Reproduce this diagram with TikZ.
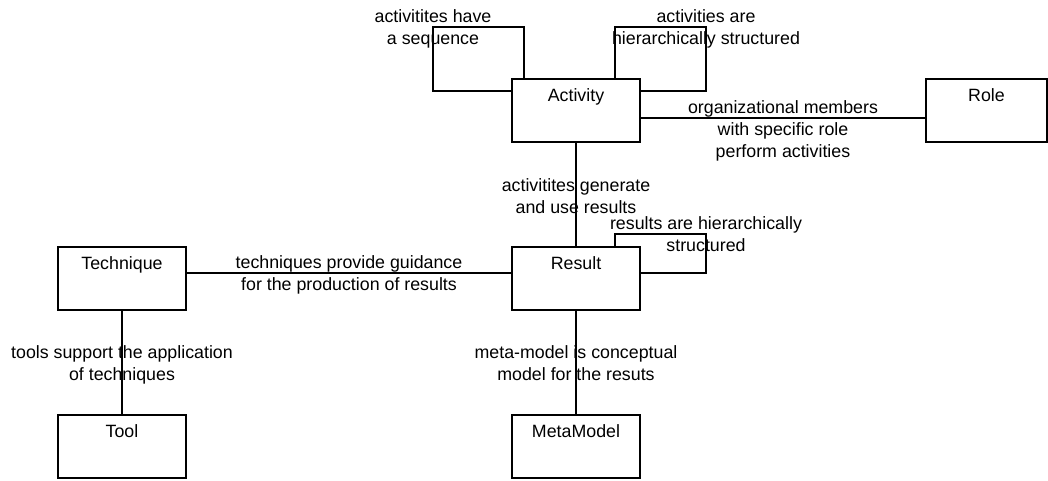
\documentclass[tikz,border=0pt]{standalone}
\usepackage{fontspec}
\setmainfont{Liberation Sans}
\usetikzlibrary{positioning}

\begin{document}
\begin{tikzpicture}[x=1pt, y=-1pt, node distance=105pt, line width=1.3pt,
        font=\fontsize{17.8}{22}\selectfont,
        entity/.style={rectangle, draw, inner sep=0pt, outer sep=0pt, minimum width=128pt, text height=22pt, text depth=41pt},
        rel/.style={align=center, inner sep=0pt, anchor=base}]
        \useasboundingbox (0,0) rectangle (1048,480);

        \node [entity, anchor=north west] (activity) at (512,79) {Activity};
        \node [entity, minimum width=121pt, right=286pt of activity] (role) {Role};
        \node [entity, below=of activity] (result) {Result};
        \node [entity, left=326pt of result] (technique) {Technique};
        \node [entity, below=of technique] (tool) {Tool};
        \node [entity, below=of result] (metamodel) {MetaModel};

        % self relations (base of a label is its last line)
        \draw ([xshift=12pt]activity.north west) |- ([xshift=-79pt, yshift=52pt]activity.north west)
            node [rel, yshift=-17.5pt] {activitites have\\a sequence}
            |- ([yshift=-12pt]activity.north west);
        \draw ([xshift=-25pt]activity.north east) |- ([xshift=66pt, yshift=52pt]activity.north east)
            node [rel, yshift=-17.5pt] {activities are\\hierarchically structured}
            |- ([yshift=-12pt]activity.north east);
        \draw ([xshift=-25pt]result.north east) |- ([xshift=66pt, yshift=13pt]result.north east)
            node [rel, yshift=-17.5pt] {results are hierarchically\\structured}
            |- ([yshift=-26pt]result.north east);

        \draw ([yshift=-39pt]activity.north east) -- ([yshift=-39pt]activity.north east -| role.west)
            node [rel, midway, yshift=-39.5pt] {organizational members\\with specific role\\perform activities};
        \draw ([yshift=-26pt]technique.north east) -- ([yshift=-26pt]technique.north east -| result.west)
            node [rel, midway, yshift=-17.5pt] {techniques provide guidance\\for the production of results};

        \draw (activity) -- (result) node [rel, midway, yshift=-19pt] {activitites generate\\and use results};
        \draw (technique) -- (tool) node [rel, midway, yshift=-18pt] {tools support the application\\of techniques};
        \draw (result) -- (metamodel) node [rel, midway, yshift=-18pt] {meta-model is conceptual\\model for the resuts};
    \end{tikzpicture}
\end{document}
